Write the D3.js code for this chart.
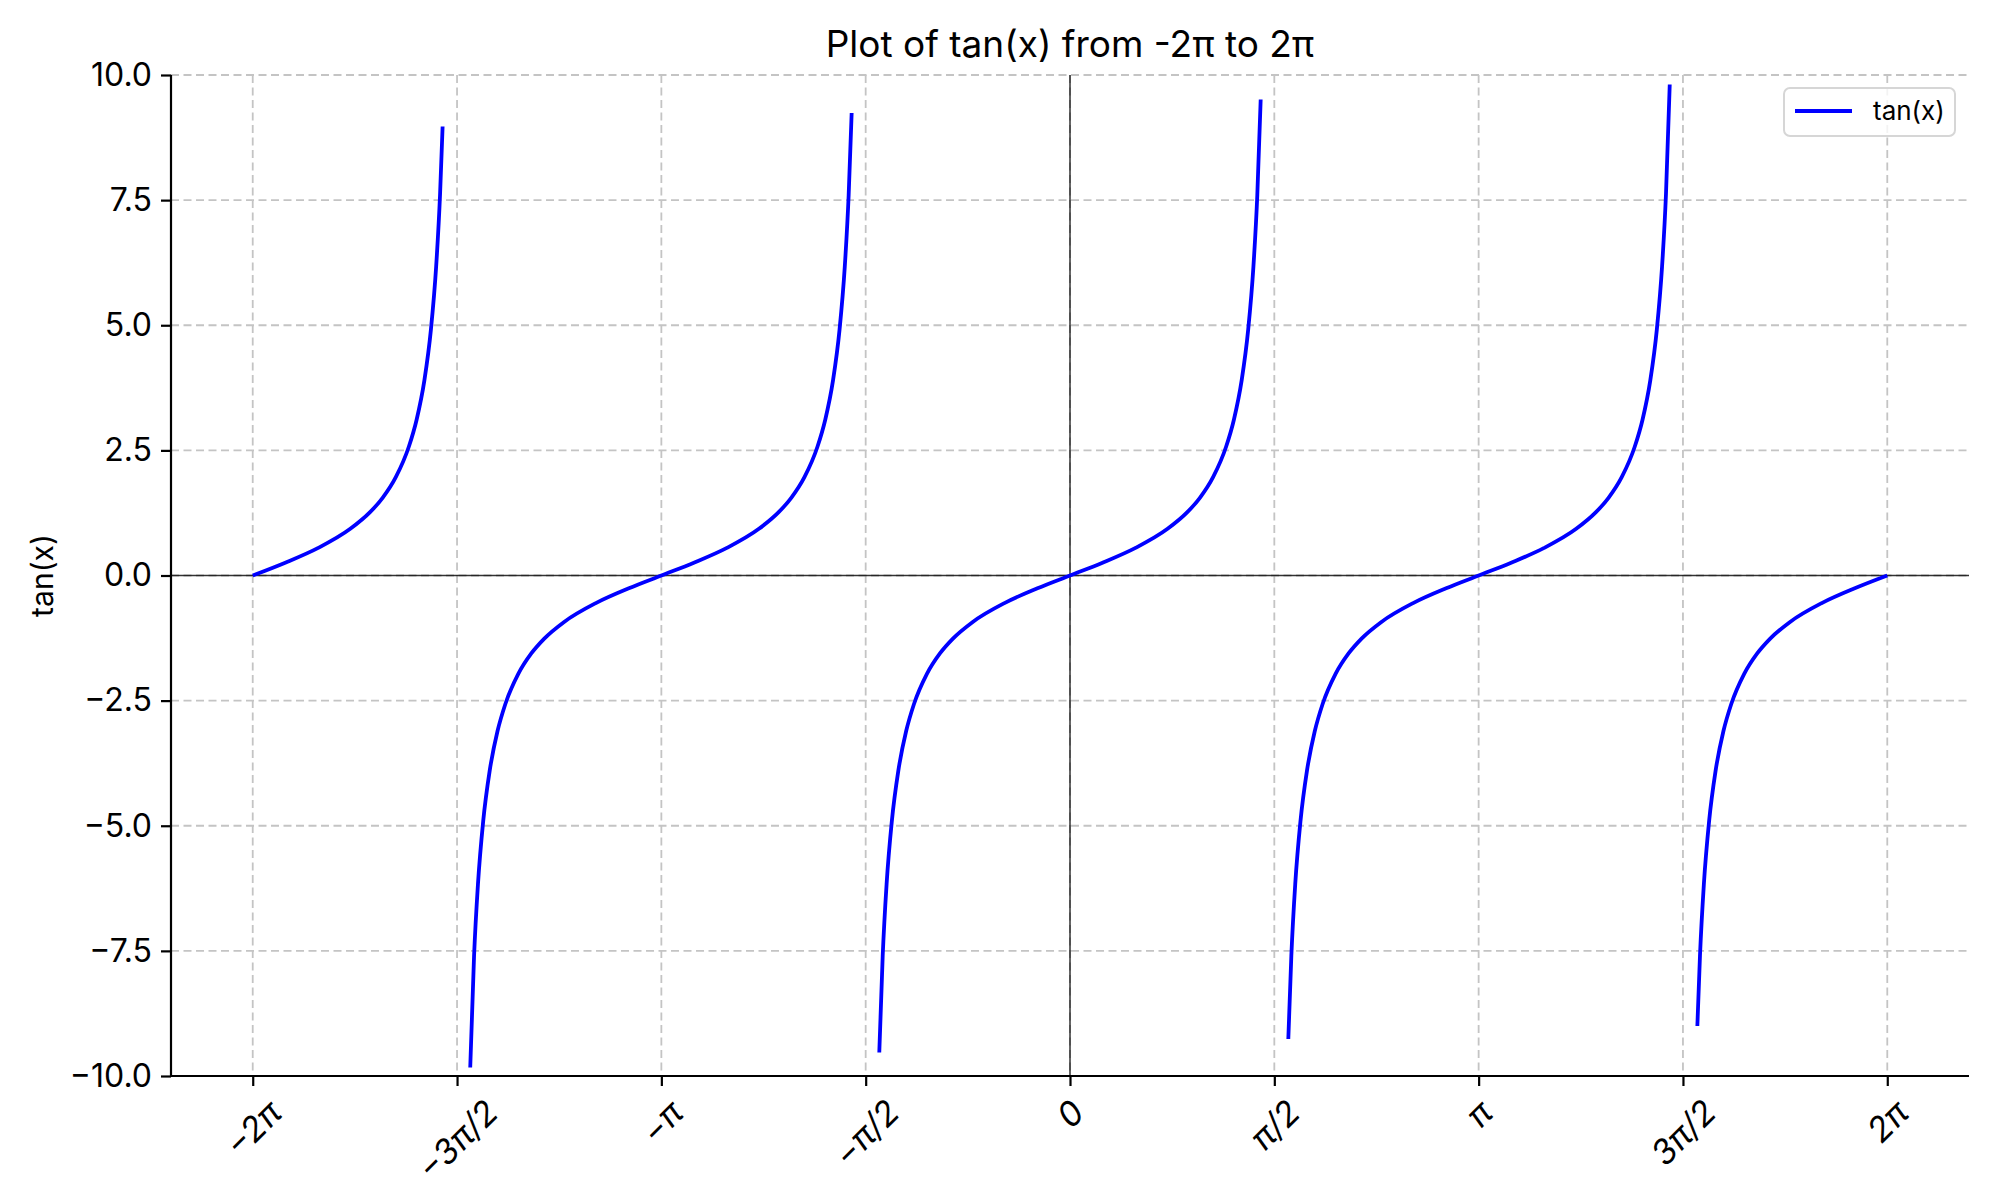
<!DOCTYPE html>
<html>
<head>
<meta charset="utf-8">
<script src="https://cdn.jsdelivr.net/npm/d3@7"></script>
<style>
  body { margin: 0; background: #fff; }
  svg text { font-family: "Inter", "Open Sans", sans-serif; fill: #000; }
</style>
</head>
<body>
<svg id="chart" width="2000" height="1200"></svg>
<script>
// tick positions are in multiples of pi
var xTickPi = [-2, -1.5, -1, -0.5, 0, 0.5, 1, 1.5, 2];
var xTickLabels = ["\u22122\u03c0", "\u22123\u03c0/2", "\u2212\u03c0", "\u2212\u03c0/2", "0", "\u03c0/2", "\u03c0", "3\u03c0/2", "2\u03c0"];
var yTicks = [-10, -7.5, -5, -2.5, 0, 2.5, 5, 7.5, 10];

// [x (rad), tan(x)], one array per branch
var branchA = [[-6.2832, 0], [-6.0332, 0.255], [-5.7832, 0.546], [-5.5332, 0.932], [-5.3832, 1.260],
  [-5.2832, 1.557], [-5.1832, 1.965], [-5.0832, 2.572], [-5.0232, 3.113], [-4.9632, 3.903],
  [-4.9132, 4.914], [-4.8732, 6.165], [-4.8432, 7.603], [-4.8234, 8.97]];
var branchB = [[-4.6110, -9.83], [-4.5816, -7.603], [-4.5516, -6.165], [-4.5116, -4.914], [-4.4616, -3.903],
  [-4.4016, -3.113], [-4.3416, -2.572], [-4.2416, -1.965], [-4.1416, -1.557], [-4.0416, -1.260],
  [-3.8916, -0.932], [-3.6416, -0.546], [-3.3916, -0.255], [-3.1416, 0], [-2.8916, 0.255],
  [-2.6416, 0.546], [-2.3916, 0.932], [-2.2416, 1.260], [-2.1416, 1.557], [-2.0416, 1.965],
  [-1.9416, 2.572], [-1.8816, 3.113], [-1.8216, 3.903], [-1.7716, 4.914], [-1.7316, 6.165],
  [-1.7016, 7.603], [-1.6786, 9.24]];
var branchC = [[-1.4662, -9.53], [-1.44, -7.603], [-1.41, -6.165], [-1.37, -4.914], [-1.32, -3.903],
  [-1.26, -3.113], [-1.2, -2.572], [-1.1, -1.965], [-1.0, -1.557], [-0.9, -1.260],
  [-0.75, -0.932], [-0.5, -0.546], [-0.25, -0.255], [0, 0], [0.25, 0.255],
  [0.5, 0.546], [0.75, 0.932], [0.9, 1.260], [1.0, 1.557], [1.1, 1.965],
  [1.2, 2.572], [1.26, 3.113], [1.32, 3.903], [1.37, 4.914], [1.41, 6.165],
  [1.44, 7.603], [1.4660, 9.51]];
var branchD = [[1.6784, -9.26], [1.7016, -7.603], [1.7316, -6.165], [1.7716, -4.914], [1.8216, -3.903],
  [1.8816, -3.113], [1.9416, -2.572], [2.0416, -1.965], [2.1416, -1.557], [2.2416, -1.260],
  [2.3916, -0.932], [2.6416, -0.546], [2.8916, -0.255], [3.1416, 0], [3.3916, 0.255],
  [3.6416, 0.546], [3.8916, 0.932], [4.0416, 1.260], [4.1416, 1.557], [4.2416, 1.965],
  [4.3416, 2.572], [4.4016, 3.113], [4.4616, 3.903], [4.5116, 4.914], [4.5516, 6.165],
  [4.5816, 7.603], [4.6108, 9.81]];
var branchE = [[4.8231, -9.0], [4.8432, -7.603], [4.8732, -6.165], [4.9132, -4.914], [4.9632, -3.903],
  [5.0232, -3.113], [5.0832, -2.572], [5.1832, -1.965], [5.2832, -1.557], [5.3832, -1.260],
  [5.5332, -0.932], [5.7832, -0.546], [6.0332, -0.255], [6.2832, 0]];

var branches = [branchA, branchB, branchC, branchD, branchE];

var margin = {left: 171, right: 31, top: 75, bottom: 124};
var W = 2000, H = 1200;
var pw = W - margin.left - margin.right;
var ph = H - margin.top - margin.bottom;

var svg = d3.select("#chart");
var g = svg.append("g").attr("transform", "translate(" + margin.left + "," + margin.top + ")");

var x = d3.scaleLinear().domain([-2.2 * Math.PI, 2.2 * Math.PI]).range([0, pw]);
var y = d3.scaleLinear().domain([-10, 10]).range([ph, 0]);

// grid
g.append("g").selectAll("line").data(xTickPi).enter().append("line")
  .attr("x1", function(d) { return x(d * Math.PI); }).attr("x2", function(d) { return x(d * Math.PI); })
  .attr("y1", 0).attr("y2", ph)
  .attr("stroke", "#c4c4c4").attr("stroke-width", 1.8).attr("stroke-dasharray", "8,4.5");
g.append("g").selectAll("line").data(yTicks).enter().append("line")
  .attr("x1", 0).attr("x2", pw)
  .attr("y1", function(d) { return y(d); }).attr("y2", function(d) { return y(d); })
  .attr("stroke", "#c4c4c4").attr("stroke-width", 1.8).attr("stroke-dasharray", "8,4.5");

// zero lines
g.append("line").attr("x1", 0).attr("x2", pw).attr("y1", y(0)).attr("y2", y(0))
  .attr("stroke", "#000").attr("stroke-opacity", 0.8).attr("stroke-width", 1.5);
g.append("line").attr("x1", x(0)).attr("x2", x(0)).attr("y1", 0).attr("y2", ph)
  .attr("stroke", "#000").attr("stroke-opacity", 0.8).attr("stroke-width", 1.5);

// curve
var line = d3.line()
  .x(function(d) { return x(d[0]); })
  .y(function(d) { return y(d[1]); })
  .curve(d3.curveMonotoneX);

g.append("g").selectAll("path").data(branches).enter().append("path")
  .attr("d", line)
  .attr("fill", "none").attr("stroke", "#0000ff").attr("stroke-width", 3.8);

// axes
var yAxis = d3.axisLeft(y).tickValues(yTicks).tickSize(10).tickPadding(9)
  .tickFormat(function(d) { return d3.format(".1f")(d).replace("-", "\u2212"); });
var ya = g.append("g").call(yAxis);
ya.select(".domain").attr("stroke-width", 2.2).attr("d", "M0,0V" + ph);
ya.selectAll(".tick line").attr("stroke-width", 2.2);
ya.selectAll("text").style("font-size", "32px").attr("font-family", null);

var xAxis = d3.axisBottom(x).tickValues(xTickPi.map(function(d) { return d * Math.PI; })).tickSize(10).tickFormat("");
var xa = g.append("g").attr("transform", "translate(0," + ph + ")").call(xAxis);
xa.select(".domain").attr("stroke-width", 2.2).attr("d", "M0,0H" + pw);
xa.selectAll(".tick line").attr("stroke-width", 2.2);

// rotated x tick labels, centred under the tick
xTickPi.forEach(function(d, i) {
  var t = g.append("text").text(xTickLabels[i])
    .style("font-size", "34px").style("font-style", "italic")
    .attr("text-anchor", "middle").attr("dominant-baseline", "central");
  var bb = t.node().getBBox();
  var half = (bb.width + bb.height * 0.75) / (2 * Math.SQRT2);
  var cx = x(d * Math.PI), cy = ph + 10 + 9 + half;
  t.attr("transform", "translate(" + cx + "," + cy + ") rotate(-45)");
});

// labels
svg.append("text").attr("x", margin.left + pw / 2).attr("y", 57)
  .attr("text-anchor", "middle").style("font-size", "37px")
  .text("Plot of tan(x) from -2\u03c0 to 2\u03c0");

svg.append("text").attr("transform", "translate(53," + (margin.top + ph / 2) + ") rotate(-90)")
  .attr("text-anchor", "middle").style("font-size", "30px")
  .text("tan(x)");

// legend
var lg = svg.append("g").attr("transform", "translate(1784,88)");
lg.append("rect").attr("width", 171).attr("height", 48).attr("rx", 6)
  .attr("fill", "#fff").attr("fill-opacity", 0.8).attr("stroke", "#d6d6d6").attr("stroke-width", 2);
lg.append("line").attr("x1", 11).attr("x2", 68).attr("y1", 23).attr("y2", 23)
  .attr("stroke", "#0000ff").attr("stroke-width", 3.8);
lg.append("text").attr("x", 89).attr("y", 32).style("font-size", "26px").text("tan(x)");
</script>
</body>
</html>
